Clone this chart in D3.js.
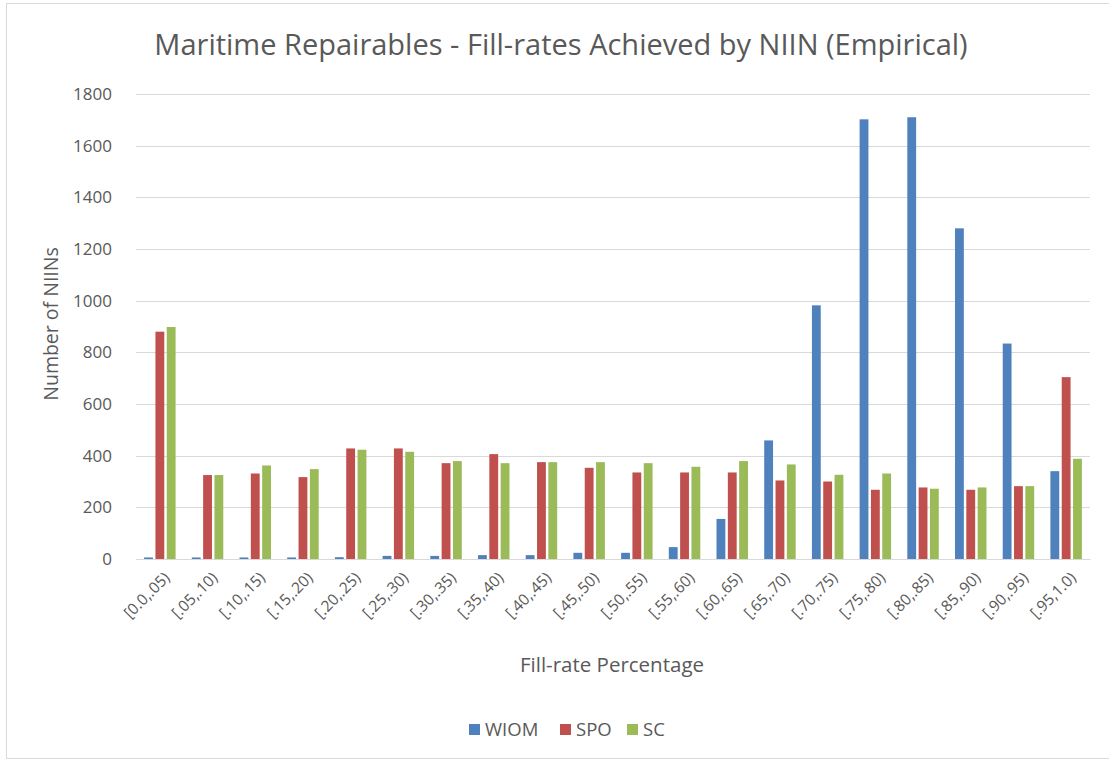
<!DOCTYPE html>
<html>
<head>
<meta charset="utf-8">
<script src="https://cdn.jsdelivr.net/npm/d3@7"></script>
<style>
  body { margin: 0; background: #fff; }
  text { font-family: "Open Sans", "Noto Sans", sans-serif; fill: #595959; }
</style>
</head>
<body>
<div id="chart"></div>
<script>
// categories and series
var categories = ["[0.0,.05)", "[.05,.10)", "[.10,.15)", "[.15,.20)", "[.20,.25)",
  "[.25,.30)", "[.30,.35)", "[.35,.40)", "[.40,.45)", "[.45,.50)",
  "[.50,.55)", "[.55,.60)", "[.60,.65)", "[.65,.70)", "[.70,.75)",
  "[.75,.80)", "[.80,.85)", "[.85,.90)", "[.90,.95)", "[.95,1.0)"];
var seriesNames = ["WIOM", "SPO", "SC"];
var wiom = [6, 6, 6, 6, 7, 12, 12, 15, 15, 24, 24, 46, 155, 459, 982, 1702, 1710, 1280, 834, 340];
var spo  = [880, 325, 331, 317, 428, 428, 371, 406, 375, 353, 335, 335, 335, 304, 300, 268, 277, 268, 282, 704];
var sc   = [898, 325, 362, 348, 423, 415, 379, 371, 375, 375, 371, 357, 379, 366, 326, 331, 272, 277, 282, 388];
var yTicks = [0, 200, 400, 600, 800, 1000, 1200, 1400, 1600, 1800];
var colors = ["#4f81bd", "#c0504d", "#9bbb59"];

(function () {

  var W = 1109, H = 760;
  var margin = { top: 94, left: 136, right: 19, bottom: 201 },
      width = W - margin.left - margin.right,
      height = H - margin.top - margin.bottom;

  var root = d3.select("#chart")
    .append("svg")
    .attr("width", W)
    .attr("height", H);

  // faint frame round the chart
  root.append("rect")
    .attr("x", 6.5).attr("y", 3.5)
    .attr("width", W + 20).attr("height", H - 5)
    .attr("fill", "none")
    .attr("stroke", "#d9d9d9");

  var svg = root.append("g")
    .attr("transform", "translate(" + margin.left + "," + margin.top + ")");

  var rows = categories.map(function (c, i) {
    return { cat: c, values: [wiom[i], spo[i], sc[i]] };
  });

  var x0 = d3.scaleBand()
    .domain(categories)
    .range([0, width])
    .paddingInner(0.34)
    .paddingOuter(0.17);

  var x1 = d3.scaleBand()
    .domain(seriesNames)
    .range([0, x0.bandwidth()])
    .paddingInner(0.22);

  var y = d3.scaleLinear()
    .domain([0, 1800])
    .range([height, 0]);

  var color = d3.scaleOrdinal()
    .domain(seriesNames)
    .range(colors);

  // gridlines
  svg.append("g")
    .selectAll("line")
    .data(yTicks)
    .enter().append("line")
    .attr("x1", 0).attr("x2", width)
    .attr("y1", function (d) { return Math.round(y(d)) + 0.5; })
    .attr("y2", function (d) { return Math.round(y(d)) + 0.5; })
    .attr("stroke", "#d9d9d9");

  // y axis, labels only
  var yAxis = d3.axisLeft(y).tickValues(yTicks).tickFormat(d3.format("d"))
    .tickSize(0).tickPadding(24);
  svg.append("g")
    .attr("class", "axis y-axis")
    .call(yAxis)
    .call(function (g) { g.select(".domain").remove(); })
    .selectAll("text")
    .style("font-size", "17px")
    .attr("fill", "#595959");

  // bars
  var groups = svg.selectAll(".cat")
    .data(rows)
    .enter().append("g")
    .attr("class", "cat")
    .attr("transform", function (d) { return "translate(" + x0(d.cat) + ",0)"; });

  groups.selectAll("rect")
    .data(function (d) {
      return d.values.map(function (v, i) { return { name: seriesNames[i], value: v }; });
    })
    .enter().append("rect")
    .attr("x", function (d) { return x1(d.name); })
    .attr("width", x1.bandwidth())
    .attr("y", function (d) { return y(d.value); })
    .attr("height", function (d) { return height - y(d.value); })
    .attr("fill", function (d) { return color(d.name); });

  // x axis
  var xAxis = d3.axisBottom(x0).tickSize(0).tickPadding(0);
  var gx = svg.append("g")
    .attr("class", "axis x-axis")
    .attr("transform", "translate(0," + height + ")")
    .call(xAxis);
  gx.select(".domain").attr("stroke", "#d9d9d9");
  gx.selectAll("text")
    .style("font-size", "15.5px")
    .attr("fill", "#595959")
    .attr("text-anchor", "end")
    .attr("dy", "0.35em")
    .attr("transform", "translate(7,16) rotate(-45)");

  // titles
  root.append("text")
    .attr("x", 561).attr("y", 55)
    .attr("text-anchor", "middle")
    .style("font-size", "29px")
    .text("Maritime Repairables - Fill-rates Achieved by NIIN (Empirical)");

  root.append("text")
    .attr("x", 612).attr("y", 672)
    .attr("text-anchor", "middle")
    .style("font-size", "20.5px")
    .text("Fill-rate Percentage");

  root.append("text")
    .attr("transform", "translate(58,324) rotate(-90)")
    .attr("text-anchor", "middle")
    .style("font-size", "19.5px")
    .text("Number of NIINs");

  // legend
  var legendX = [469, 560, 627];
  var legend = root.selectAll(".legend")
    .data(seriesNames)
    .enter().append("g")
    .attr("class", "legend")
    .attr("transform", function (d, i) { return "translate(" + legendX[i] + ",724)"; });
  legend.append("rect")
    .attr("width", 11).attr("height", 11)
    .attr("fill", function (d) { return color(d); });
  legend.append("text")
    .attr("x", 16).attr("y", 5.5)
    .attr("dy", "0.35em")
    .style("font-size", "18.5px")
    .text(function (d) { return d; });

})()
</script>
</body>
</html>
